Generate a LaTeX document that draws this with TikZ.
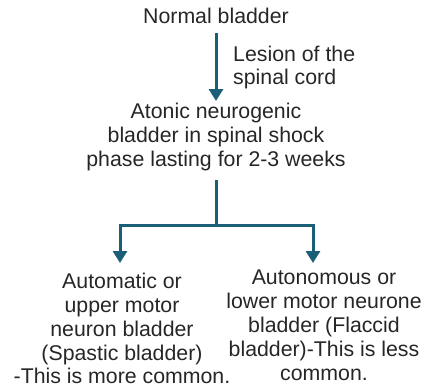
\documentclass[tikz,border=0pt]{standalone}
\usepackage{fontspec}
\setmainfont{Liberation Sans}
\usetikzlibrary{arrows.meta}
\definecolor{teal1}{HTML}{1B5E78}
\begin{document}
\begin{tikzpicture}[x=1pt,y=1pt,
  txt/.style={inner sep=0pt,align=center,font=\fontsize{21.3}{23.8}\selectfont,text=black!85},
  conn/.style={draw=teal1,line width=3pt},
  arr/.style={conn,-{Triangle[width=14pt,length=12pt]}}]
\useasboundingbox (0,0) rectangle (432,-388);
\node[txt] (normal) at (216,-16) {Normal bladder};
\coordinate (a1s) at (216,-33);
\coordinate (a1e) at (216,-101);
\node[txt,align=left,anchor=west] (lesion) at (233,-67.5) {Lesion of the\\spinal cord};
\node[txt] (atonic) at (216,-137) {Atonic neurogenic\\bladder in spinal shock\\phase lasting for 2-3 weeks};
\coordinate (split) at (216,-225);
\coordinate (lt) at (120,-225);
\coordinate (rt) at (313,-225);
\coordinate (le) at (120,-263);
\coordinate (re) at (313,-263);
\node[txt,anchor=north] (left) at (122,-273) {Automatic or\\upper motor\\neuron bladder\\(Spastic bladder)\\-This is more common.};
\node[txt,anchor=north] (right) at (324,-270) {Autonomous or\\lower motor neurone\\bladder (Flaccid\\bladder)-This is less\\common.};
\draw[arr] (a1s) -- (a1e);
\draw[conn] (216,-180) -- (split);
\draw[arr] (split) -- (lt) -- (le);
\draw[arr] (split) -- (rt) -- (re);
\end{tikzpicture}
\end{document}
